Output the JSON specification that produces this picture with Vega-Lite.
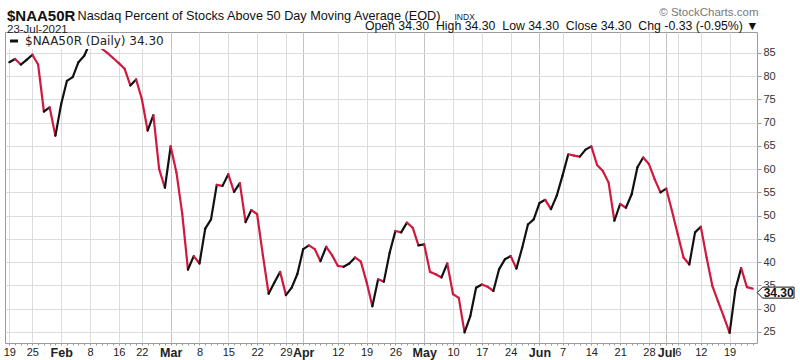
{
  "$schema": "https://vega.github.io/schema/vega-lite/v6.json",
  "autosize": {"type": "none"},
  "width": 752,
  "height": 311,
  "padding": {"left": 5, "top": 32, "right": 43, "bottom": 17},
  "background": "white",
  "config": {"view": {"stroke": "#9a9a9a"}, "font": "Liberation Sans"},
  "title": {
    "text": "$NAA50R",
    "subtitle": "23-Jul-2021",
    "anchor": "start",
    "frame": "group",
    "orient": "top",
    "offset": -1,
    "dx": 2,
    "dy": 28,
    "font": "Liberation Sans",
    "fontSize": 15,
    "fontWeight": "bold",
    "color": "#111111",
    "subtitleFont": "Liberation Sans",
    "subtitleFontSize": 11.5,
    "subtitleColor": "#222222",
    "subtitlePadding": 0
  },
  "datasets": {
    "s": [
      {"d": "2021-01-19", "v": 83.0}, {"d": "2021-01-20", "v": 83.7}, {"d": "2021-01-21", "v": 82.5}, {"d": "2021-01-22", "v": 83.5},
      {"d": "2021-01-25", "v": 84.6}, {"d": "2021-01-26", "v": 82.5}, {"d": "2021-01-27", "v": 72.4}, {"d": "2021-01-28", "v": 73.3}, {"d": "2021-01-29", "v": 67.2},
      {"d": "2021-02-01", "v": 74.0}, {"d": "2021-02-02", "v": 79.0}, {"d": "2021-02-03", "v": 79.8}, {"d": "2021-02-04", "v": 83.0}, {"d": "2021-02-05", "v": 84.4},
      {"d": "2021-02-08", "v": 87.2}, {"d": "2021-02-09", "v": 87.6}, {"d": "2021-02-10", "v": 86.0}, {"d": "2021-02-11", "v": 85.0}, {"d": "2021-02-12", "v": 83.9},
      {"d": "2021-02-16", "v": 82.8}, {"d": "2021-02-17", "v": 81.6}, {"d": "2021-02-18", "v": 78.0}, {"d": "2021-02-19", "v": 79.3},
      {"d": "2021-02-22", "v": 75.1}, {"d": "2021-02-23", "v": 68.3}, {"d": "2021-02-24", "v": 71.6}, {"d": "2021-02-25", "v": 60.0}, {"d": "2021-02-26", "v": 56.0},
      {"d": "2021-03-01", "v": 64.9}, {"d": "2021-03-02", "v": 59.3}, {"d": "2021-03-03", "v": 50.5}, {"d": "2021-03-04", "v": 38.4}, {"d": "2021-03-05", "v": 41.3},
      {"d": "2021-03-08", "v": 39.7}, {"d": "2021-03-09", "v": 47.2}, {"d": "2021-03-10", "v": 49.2}, {"d": "2021-03-11", "v": 56.6}, {"d": "2021-03-12", "v": 56.4},
      {"d": "2021-03-15", "v": 58.9}, {"d": "2021-03-16", "v": 55.1}, {"d": "2021-03-17", "v": 57.0}, {"d": "2021-03-18", "v": 48.6}, {"d": "2021-03-19", "v": 51.2},
      {"d": "2021-03-22", "v": 50.3}, {"d": "2021-03-23", "v": 41.5}, {"d": "2021-03-24", "v": 33.2}, {"d": "2021-03-25", "v": 35.6}, {"d": "2021-03-26", "v": 37.9},
      {"d": "2021-03-29", "v": 32.9}, {"d": "2021-03-30", "v": 34.5}, {"d": "2021-03-31", "v": 37.5}, {"d": "2021-04-01", "v": 42.8},
      {"d": "2021-04-05", "v": 43.6}, {"d": "2021-04-06", "v": 42.8}, {"d": "2021-04-07", "v": 40.2}, {"d": "2021-04-08", "v": 43.3}, {"d": "2021-04-09", "v": 41.5},
      {"d": "2021-04-12", "v": 39.2}, {"d": "2021-04-13", "v": 39.0}, {"d": "2021-04-14", "v": 39.7}, {"d": "2021-04-15", "v": 41.0}, {"d": "2021-04-16", "v": 40.1},
      {"d": "2021-04-19", "v": 35.7}, {"d": "2021-04-20", "v": 30.5}, {"d": "2021-04-21", "v": 36.3}, {"d": "2021-04-22", "v": 35.8}, {"d": "2021-04-23", "v": 42.0},
      {"d": "2021-04-26", "v": 46.7}, {"d": "2021-04-27", "v": 46.4}, {"d": "2021-04-28", "v": 48.5}, {"d": "2021-04-29", "v": 47.4}, {"d": "2021-04-30", "v": 43.6},
      {"d": "2021-05-03", "v": 43.8}, {"d": "2021-05-04", "v": 37.9}, {"d": "2021-05-05", "v": 37.4}, {"d": "2021-05-06", "v": 36.7}, {"d": "2021-05-07", "v": 39.7},
      {"d": "2021-05-10", "v": 33.1}, {"d": "2021-05-11", "v": 32.3}, {"d": "2021-05-12", "v": 24.9}, {"d": "2021-05-13", "v": 28.4}, {"d": "2021-05-14", "v": 34.5},
      {"d": "2021-05-17", "v": 35.2}, {"d": "2021-05-18", "v": 34.7}, {"d": "2021-05-19", "v": 33.8}, {"d": "2021-05-20", "v": 38.5}, {"d": "2021-05-21", "v": 40.6},
      {"d": "2021-05-24", "v": 41.3}, {"d": "2021-05-25", "v": 38.6}, {"d": "2021-05-26", "v": 43.1}, {"d": "2021-05-27", "v": 48.1}, {"d": "2021-05-28", "v": 49.2},
      {"d": "2021-06-01", "v": 52.7}, {"d": "2021-06-02", "v": 53.4}, {"d": "2021-06-03", "v": 51.4}, {"d": "2021-06-04", "v": 54.3},
      {"d": "2021-06-07", "v": 58.6}, {"d": "2021-06-08", "v": 63.2}, {"d": "2021-06-09", "v": 62.9}, {"d": "2021-06-10", "v": 62.7}, {"d": "2021-06-11", "v": 64.2},
      {"d": "2021-06-14", "v": 64.9}, {"d": "2021-06-15", "v": 60.9}, {"d": "2021-06-16", "v": 59.6}, {"d": "2021-06-17", "v": 57.1}, {"d": "2021-06-18", "v": 48.9},
      {"d": "2021-06-21", "v": 52.5}, {"d": "2021-06-22", "v": 51.7}, {"d": "2021-06-23", "v": 54.6}, {"d": "2021-06-24", "v": 60.4}, {"d": "2021-06-25", "v": 62.5},
      {"d": "2021-06-28", "v": 61.1}, {"d": "2021-06-29", "v": 57.8}, {"d": "2021-06-30", "v": 55.0}, {"d": "2021-07-01", "v": 55.8}, {"d": "2021-07-02", "v": 51.0},
      {"d": "2021-07-06", "v": 46.0}, {"d": "2021-07-07", "v": 41.0}, {"d": "2021-07-08", "v": 39.5}, {"d": "2021-07-09", "v": 46.4},
      {"d": "2021-07-12", "v": 47.6}, {"d": "2021-07-13", "v": 41.0}, {"d": "2021-07-14", "v": 34.9}, {"d": "2021-07-15", "v": 31.5}, {"d": "2021-07-16", "v": 28.2},
      {"d": "2021-07-19", "v": 24.8}, {"d": "2021-07-20", "v": 34.1}, {"d": "2021-07-21", "v": 38.7}, {"d": "2021-07-22", "v": 34.63}, {"d": "2021-07-23", "v": 34.3}
    ]
  },
  "resolve": {"axis": {"x": "independent", "y": "independent"}},
  "layer": [
    {
      "data": {"name": "s"},
      "transform": [
        {"window": [{"op": "lead", "field": "v", "as": "v2"}, {"op": "lead", "field": "d", "as": "d2"}]},
        {"filter": "datum.d2 != null"}
      ],
      "mark": {"type": "rule", "strokeWidth": 2.2, "strokeCap": "round"},
      "encoding": {
        "x": {
          "field": "d", "type": "ordinal",
          "scale": {"type": "point", "padding": 0.75},
          "axis": {
            "orient": "bottom",
            "values": ["2021-01-19","2021-01-25","2021-02-01","2021-02-08","2021-02-16","2021-02-22","2021-03-01","2021-03-08","2021-03-15","2021-03-22","2021-03-29","2021-04-01","2021-04-12","2021-04-19","2021-04-26","2021-05-03","2021-05-10","2021-05-17","2021-05-24","2021-06-01","2021-06-07","2021-06-14","2021-06-21","2021-06-28","2021-07-01","2021-07-06","2021-07-12","2021-07-19"],
            "labelExpr": "indexof(['2021-02-01','2021-03-01','2021-04-01','2021-05-03','2021-06-01','2021-07-01'], datum.value) >= 0 ? utcFormat(toDate(datum.value), '%b') : utcFormat(toDate(datum.value), '%-d')",
            "labelFontWeight": {"condition": {"test": "indexof(['2021-02-01','2021-03-01','2021-04-01','2021-05-03','2021-06-01','2021-07-01'], datum.value) >= 0", "value": "bold"}, "value": "normal"},
            "labelFontSize": {"condition": {"test": "indexof(['2021-02-01','2021-03-01','2021-04-01','2021-05-03','2021-06-01','2021-07-01'], datum.value) >= 0", "value": 12.5}, "value": 11},
            "gridColor": {"condition": {"test": "indexof(['2021-03-01','2021-04-01','2021-05-03','2021-06-01','2021-07-01'], datum.value) >= 0", "value": "#c2c2c2"}, "value": "#dcdcdc"},
            "grid": true,
            "labelAngle": 0,
            "labelOverlap": false,
            "labelFlush": false,
            "labelColor": "#222222",
            "labelFont": "Liberation Sans",
            "labelPadding": 3,
            "ticks": false,
            "domain": false,
            "title": "Nasdaq Percent of Stocks Above 50 Day Moving Average (EOD)",
            "titleX": 72,
            "titleY": -324,
            "titleAlign": "left",
            "titleAnchor": "start",
            "titleBaseline": "alphabetic",
            "titleFont": "Liberation Sans",
            "titleFontSize": 12.7,
            "titleFontWeight": "normal",
            "titleColor": "#111111"
          }
        },
        "x2": {"field": "d2"},
        "y": {
          "field": "v", "type": "quantitative",
          "scale": {"domain": [22.6, 89.5], "nice": false, "zero": false},
          "axis": {
            "orient": "right",
            "values": [25, 30, 35, 40, 45, 50, 55, 60, 65, 70, 75, 80, 85],
            "grid": true,
            "gridColor": "#dcdcdc",
            "domain": false,
            "ticks": true,
            "tickSize": 4,
            "tickColor": "#999999",
            "labels": true,
            "labelFont": "Liberation Sans",
            "labelFontSize": 11,
            "labelColor": "#333333",
            "labelPadding": 2,
            "title": "Open 34.30\u00a0\u00a0High 34.30\u00a0\u00a0Low 34.30\u00a0\u00a0Close 34.30\u00a0\u00a0Chg -0.33 (-0.95%) \u25bc",
            "titleAngle": 0,
            "titleX": 1,
            "titleY": -3,
            "titleAlign": "right",
            "titleAnchor": "start",
            "titleBaseline": "alphabetic",
            "titleFont": "Liberation Sans",
            "titleFontSize": 12.3,
            "titleFontWeight": "normal",
            "titleColor": "#111111"
          }
        },
        "y2": {"field": "v2"},
        "color": {
          "condition": {"test": "datum.v2 < datum.v", "value": "#d0193f"},
          "datum": "$NAA50R (Daily) 34.30",
          "type": "nominal",
          "scale": {"range": ["#111111"]},
          "legend": {
            "orient": "top-left",
            "title": null,
            "offset": 1,
            "padding": 2,
            "fillColor": "white",
            "labelFont": "DejaVu Sans",
            "labelFontSize": 12,
            "labelColor": "#222222",
            "labelOffset": 5,
            "symbolType": "stroke",
            "symbolStrokeWidth": 3,
            "symbolSize": 64
          }
        }
      }
    },
    {
      "data": {"name": "s"},
      "transform": [{"filter": "datum.d == '2021-07-23'"}],
      "mark": {"type": "point", "shape": "M0,0L1,-1L6.7,-1L6.7,1L1,1Z", "size": 121, "filled": true, "fill": "white", "stroke": "#111111", "strokeWidth": 1, "opacity": 1, "xOffset": 4.5, "yOffset": 4},
      "encoding": {
        "x": {
          "field": "d", "type": "ordinal",
          "axis": {
            "orient": "bottom", "labels": false, "grid": false, "domain": false,
            "ticks": true, "tickSize": 2, "tickColor": "#999999",
            "title": "INDX", "titleX": 449, "titleY": -324, "titleAlign": "left", "titleAnchor": "start",
            "titleBaseline": "alphabetic", "titleFont": "Liberation Sans", "titleFontSize": 8.5,
            "titleFontWeight": "normal", "titleColor": "#222222"
          }
        },
        "y": {"field": "v", "type": "quantitative", "axis": null}
      }
    },
    {
      "data": {"name": "s"},
      "transform": [{"filter": "datum.d == '2021-07-23'"}],
      "mark": {"type": "text", "font": "Liberation Sans", "fontSize": 12, "fontWeight": "bold", "color": "#111111", "align": "center", "baseline": "middle", "dx": 26, "dy": 4},
      "encoding": {
        "x": {
          "field": "d", "type": "ordinal",
          "axis": {
            "orient": "top", "labels": false, "grid": false, "domain": false, "ticks": false,
            "title": "\u00a9 StockCharts.com", "titleX": 753, "titleY": -17, "titleAlign": "right", "titleAnchor": "start",
            "titleBaseline": "alphabetic", "titleFont": "Liberation Sans", "titleFontSize": 11.5,
            "titleFontWeight": "normal", "titleColor": "#777777"
          }
        },
        "y": {"field": "v", "type": "quantitative", "axis": null},
        "text": {"field": "v", "type": "quantitative", "format": ".2f"}
      }
    }
  ]
}
